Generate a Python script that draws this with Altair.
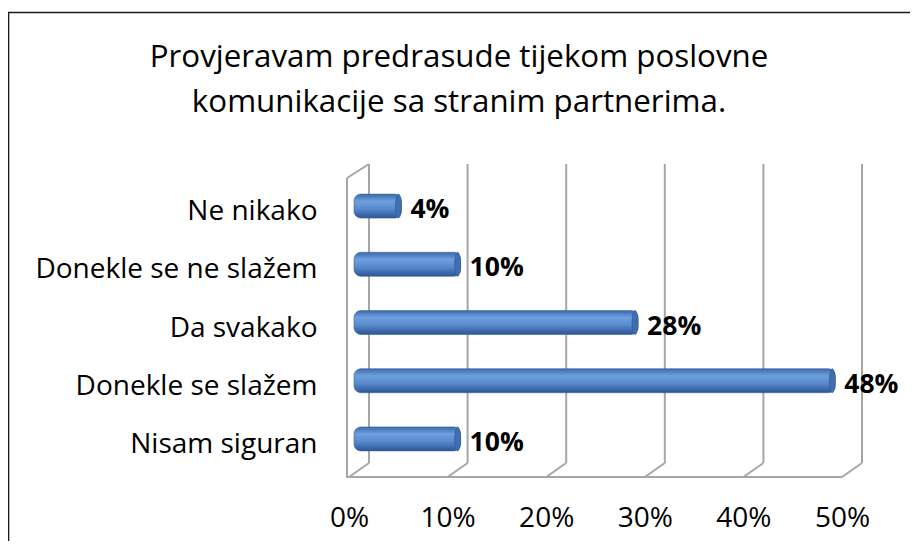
import altair as alt
import pandas as pd

categories = ["Ne nikako", "Donekle se ne slažem", "Da svakako", "Donekle se slažem", "Nisam siguran"]
values = [0.04, 0.10, 0.28, 0.48, 0.10]
tick_values = [0.0, 0.1, 0.2, 0.3, 0.4, 0.5]
title_lines = ["Provjeravam predrasude tijekom poslovne", "komunikacije sa stranim partnerima."]

FONT = "Open Sans"
GRID = "#A6A6A6"

df = pd.DataFrame({"cat": categories, "val": values})
ticks = pd.DataFrame({"tick": tick_values})
span = pd.DataFrame({"lo": [tick_values[0]], "hi": [tick_values[-1]]})
one = pd.DataFrame({"k": [0]})

xscale = alt.Scale(domain=[0, 0.5], nice=False, zero=True)
x_axis = alt.Axis(values=tick_values, format=".0%", title=None, grid=False, domain=False,
                  ticks=False, tickSize=0, labelPadding=30, labelFontSize=28, labelFont=FONT,
                  labelColor="black", labelFlush=False, labelOverlap=False)
y_axis = alt.Axis(title=None, grid=False, domain=False, ticks=False, tickSize=0,
                  labelPadding=32, labelFontSize=28, labelFont=FONT, labelColor="black",
                  labelLimit=400)
Y = alt.Y("cat:N", sort=categories, axis=y_axis, scale=alt.Scale(paddingInner=0, paddingOuter=0))

grid_back = alt.Chart(ticks).mark_rule(color=GRID, strokeWidth=2, xOffset=20).encode(
    x=alt.X("tick:Q", scale=xscale, axis=x_axis),
    y=alt.value(-19), y2=alt.value(280))

grid_floor = alt.Chart(ticks).mark_rule(color=GRID, strokeWidth=2, xOffset=20, x2Offset=0).encode(
    x=alt.X("tick:Q", scale=xscale, axis=x_axis), x2="tick:Q",
    y=alt.value(280), y2=alt.value(294))

floor_front = alt.Chart(span).mark_rule(color=GRID, strokeWidth=2, xOffset=-2).encode(
    x=alt.X("lo:Q", scale=xscale, axis=x_axis), x2="hi:Q",
    y=alt.value(294), y2=alt.value(294))

wall_front = alt.Chart(span).mark_rule(color=GRID, strokeWidth=2, xOffset=-2).encode(
    x=alt.X("lo:Q", scale=xscale, axis=x_axis),
    y=alt.value(-5), y2=alt.value(295))

wall_top = alt.Chart(span).mark_rule(color=GRID, strokeWidth=2, xOffset=-2, x2Offset=20).encode(
    x=alt.X("lo:Q", scale=xscale, axis=x_axis), x2="lo:Q",
    y=alt.value(-5), y2=alt.value(-19))

gradient = alt.LinearGradient(
    gradient="linear", x1=0, y1=0, x2=0, y2=1,
    stops=[alt.GradientStop(color="#3C69A9", offset=0),
           alt.GradientStop(color="#6FA0DE", offset=0.3),
           alt.GradientStop(color="#5789CD", offset=0.62),
           alt.GradientStop(color="#2D5592", offset=1)])

bars = alt.Chart(df).mark_bar(size=24, cornerRadius=7, yOffset=-6, xOffset=13, x2Offset=5,
                              color=gradient, stroke="#3A64A0", strokeWidth=0.6).encode(
    x=alt.X("val:Q", scale=xscale, axis=x_axis),
    x2=alt.datum(0),
    y=Y)

ellipse = "M0,-1 A0.25,1 0 1,1 0,1 A0.25,1 0 1,1 0,-1 Z"
caps = alt.Chart(df).mark_point(shape=ellipse, size=576, filled=True, color="#406EAE",
                                opacity=1, xOffset=10, yOffset=-6,
                                stroke="#2F5894", strokeWidth=0.6).encode(
    x=alt.X("val:Q", scale=xscale, axis=x_axis),
    y=Y)

labels = alt.Chart(df).mark_text(align="left", baseline="middle", dx=22, dy=-2,
                                 fontWeight="bold", fontSize=26.5, font=FONT, color="black").encode(
    x=alt.X("val:Q", scale=xscale, axis=x_axis),
    y=Y,
    text=alt.Text("val:Q", format=".0%"))

title1 = alt.Chart(one).mark_text(align="center", baseline="alphabetic", fontSize=31.3,
                                  font=FONT, color="black").encode(
    x=alt.value(110), y=alt.value(-116), text=alt.value(title_lines[0]))
title2 = alt.Chart(one).mark_text(align="center", baseline="alphabetic", fontSize=31.3,
                                  font=FONT, color="black").encode(
    x=alt.value(110), y=alt.value(-71), text=alt.value(title_lines[1]))

border_top = alt.Chart(one).mark_rule(color="#1A1A1A", strokeWidth=1.6).encode(
    x=alt.value(-341), x2=alt.value(600), y=alt.value(-170.5))
border_left = alt.Chart(one).mark_rule(color="#1A1A1A", strokeWidth=1.6).encode(
    x=alt.value(-340.5), y=alt.value(-171), y2=alt.value(400))

chart = alt.layer(
    border_top, border_left, grid_back, grid_floor, floor_front, wall_front, wall_top,
    bars, caps, labels, title1, title2
).properties(
    width=493, height=291,
    background="white",
    autosize=alt.AutoSizeParams(type="none"),
    padding={"left": 341, "top": 175, "right": 68, "bottom": 67},
).configure_view(stroke=None)

chart.save("out.html", embed_options={"renderer": "svg", "actions": False})
